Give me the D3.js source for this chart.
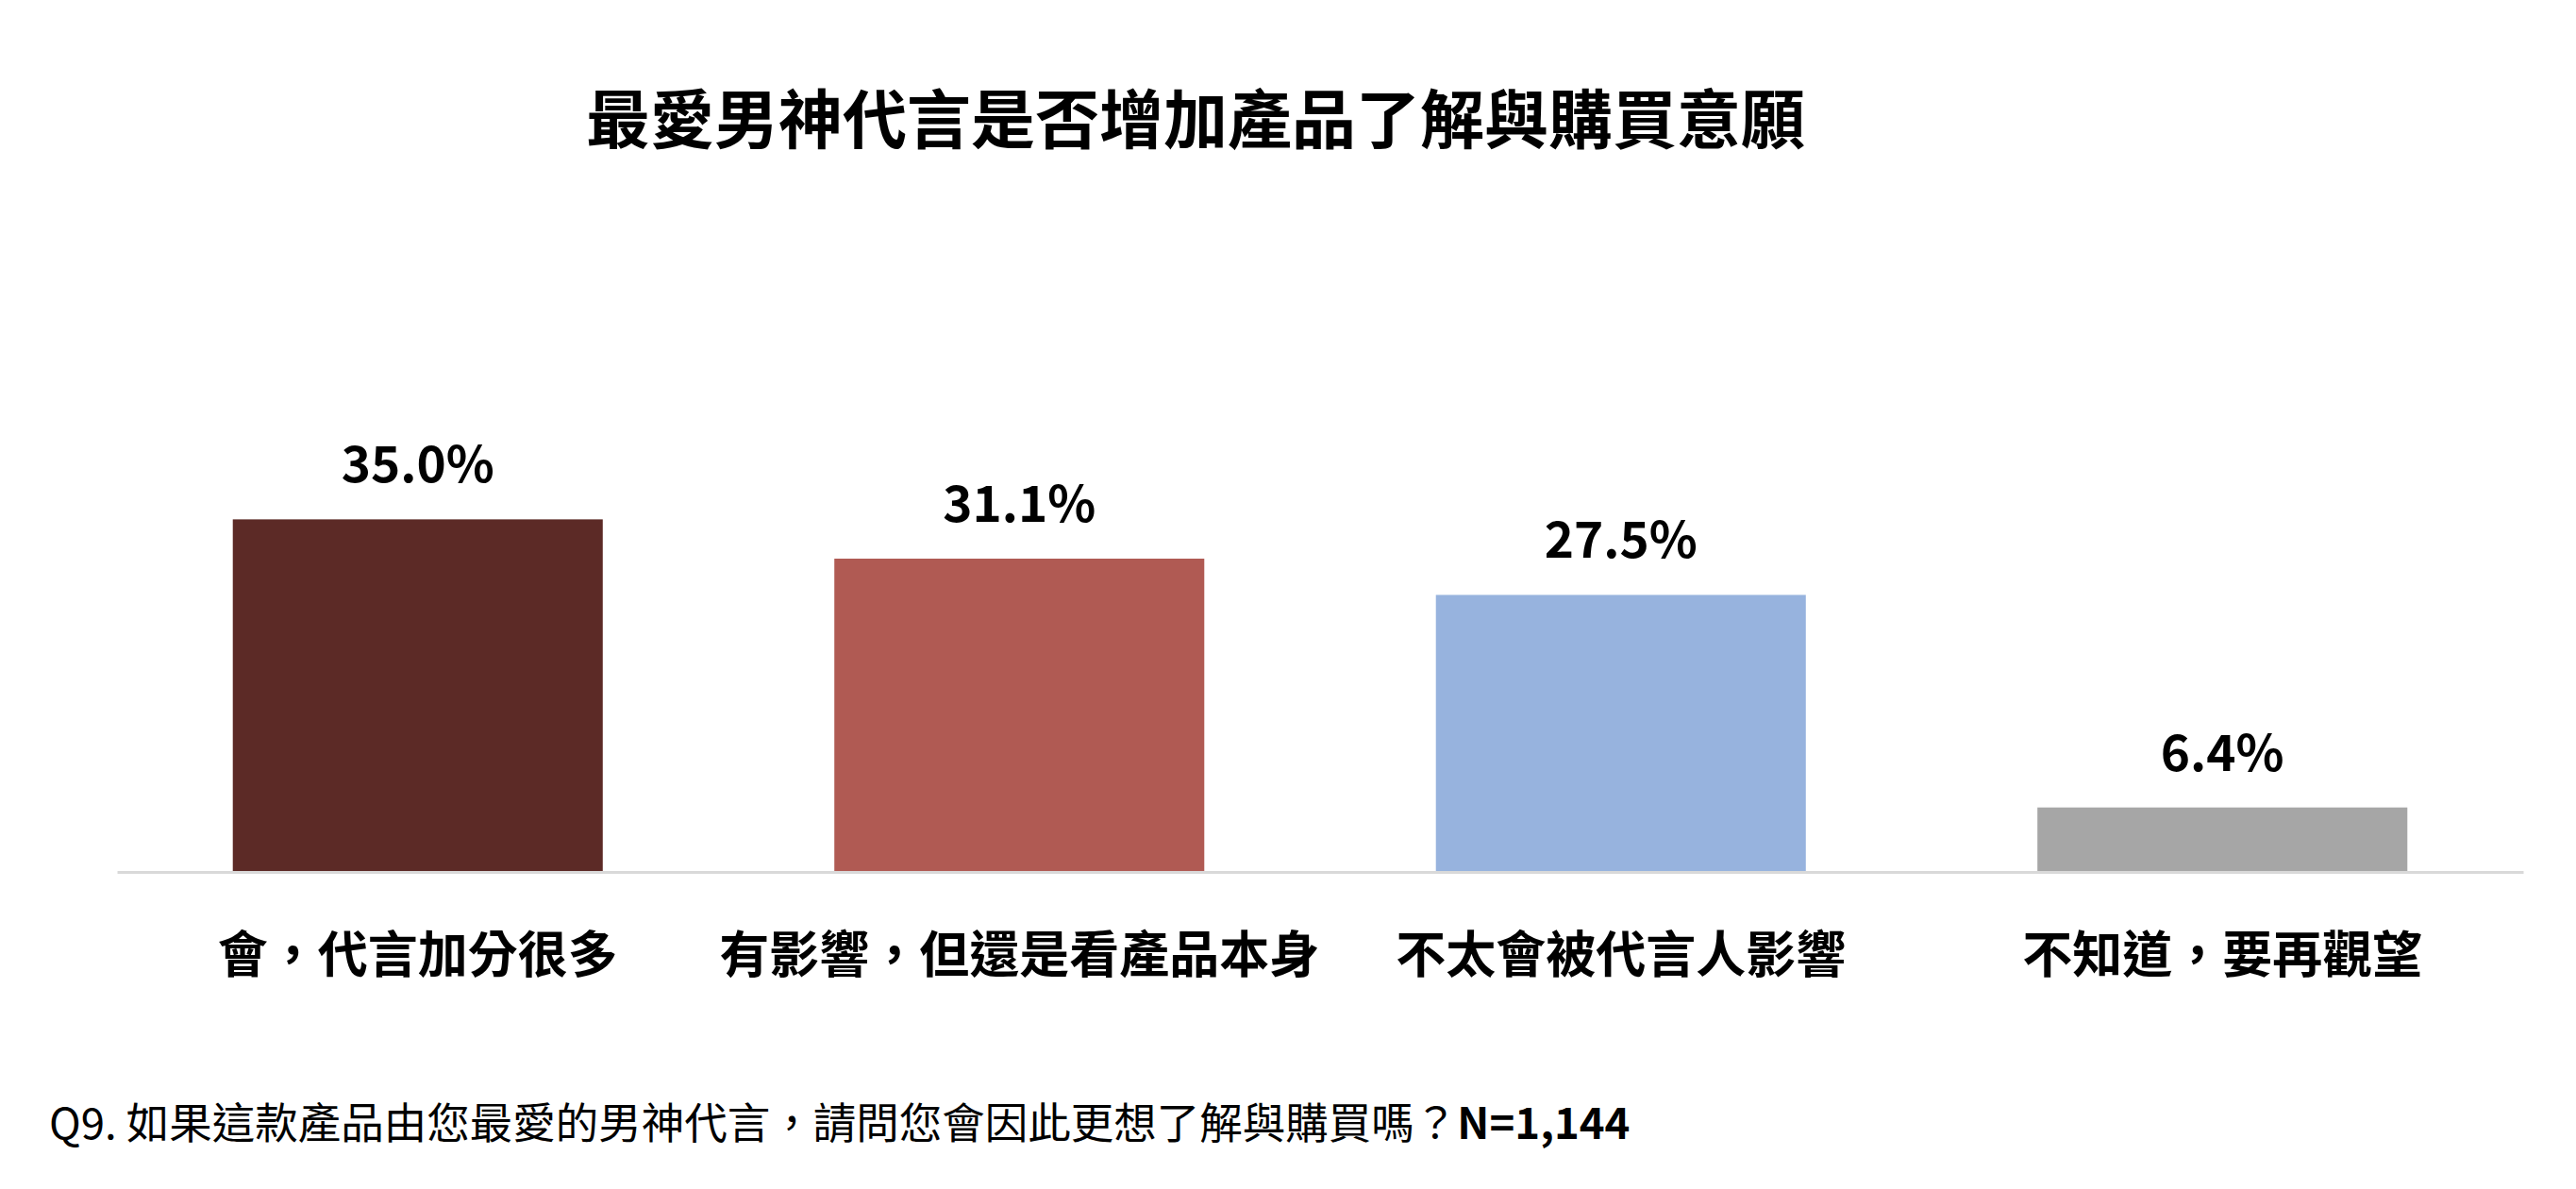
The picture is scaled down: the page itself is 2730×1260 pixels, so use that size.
<!DOCTYPE html>
<html>
<head>
<meta charset="utf-8">
<script src="https://cdn.jsdelivr.net/npm/d3@7"></script>
<style>
  html, body { margin: 0; padding: 0; background: #fff; }
  text { font-family: "Noto Sans CJK TC", "Noto Sans", sans-serif; }
</style>
</head>
<body>
<div id="chart"></div>
<script>
// data
var categories = ["會，代言加分很多", "有影響，但還是看產品本身", "不太會被代言人影響", "不知道，要再觀望"];
var values = [35.0, 31.1, 27.5, 6.4];
var barColors = ["#5C2A26", "#B05A53", "#97B3DE", "#A6A6A6"];
var titleText = "最愛男神代言是否增加產品了解與購買意願";
var noteText = "Q9. 如果這款產品由您最愛的男神代言，請問您會因此更想了解與購買嗎？";
var noteN = "N=1,144";

var width = 2730, height = 1260;
var plotLeft = 124, plotRight = 2674, axisY = 924, yMaxPx = 497;

var svg = d3.select("#chart").append("svg")
    .attr("width", width)
    .attr("height", height);

var x = d3.scaleBand()
    .domain(categories)
    .range([plotLeft, plotRight])
    .paddingInner(0.385)
    .paddingOuter(0.1925);

var y = d3.scaleLinear()
    .domain([0, 40])
    .range([axisY, yMaxPx]);

var data = categories.map(function(c, i) { return { cat: c, val: values[i], color: barColors[i] }; });

// bars
svg.selectAll("rect.bar").data(data).enter().append("rect")
    .attr("class", "bar")
    .attr("x", function(d) { return x(d.cat); })
    .attr("y", function(d) { return y(d.val); })
    .attr("width", x.bandwidth())
    .attr("height", function(d) { return y(0) - y(d.val); })
    .attr("fill", function(d) { return d.color; });

// baseline axis
var xAxis = d3.axisBottom(x).tickSize(0).tickPadding(0).tickFormat("");
var gx = svg.append("g")
    .attr("transform", "translate(0," + axisY + ")")
    .call(xAxis);
gx.select(".domain").attr("stroke", "#D9D9D9").attr("stroke-width", 3);

// category labels
svg.selectAll("text.cat").data(data).enter().append("text")
    .attr("class", "cat")
    .attr("x", function(d) { return x(d.cat) + x.bandwidth() / 2; })
    .attr("y", 1031)
    .attr("text-anchor", "middle")
    .attr("font-size", 53)
    .attr("font-weight", 700)
    .attr("fill", "#000")
    .text(function(d) { return d.cat; });

// value labels
svg.selectAll("text.val").data(data).enter().append("text")
    .attr("class", "val")
    .attr("x", function(d) { return x(d.cat) + x.bandwidth() / 2; })
    .attr("y", function(d) { return y(d.val) - 39; })
    .attr("text-anchor", "middle")
    .attr("font-size", 53)
    .attr("font-weight", 700)
    .attr("fill", "#000")
    .text(function(d) { return d.val.toFixed(1) + "%"; });

// title
svg.append("text")
    .attr("x", 1267)
    .attr("y", 152)
    .attr("text-anchor", "middle")
    .attr("font-size", 68)
    .attr("font-weight", 700)
    .attr("fill", "#000")
    .text(titleText);

// footnote
var note = svg.append("text")
    .attr("x", 52)
    .attr("y", 1207)
    .attr("font-size", 45.5)
    .attr("fill", "#000");
note.append("tspan").text(noteText);
note.append("tspan").attr("font-weight", 700).text(noteN);
</script>
</body>
</html>
